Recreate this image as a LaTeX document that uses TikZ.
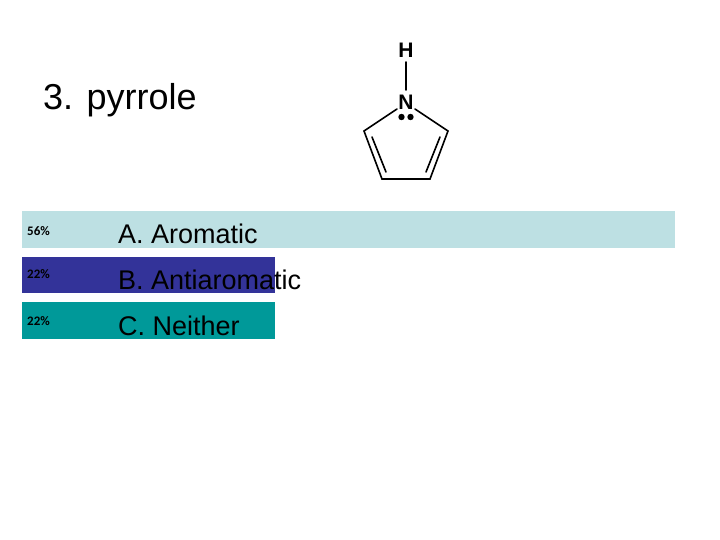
\documentclass[tikz,border=0pt]{standalone}
\usepackage{fontspec}
\setmainfont{Liberation Sans}
\newfontfamily\pct{Carlito}
\definecolor{barA}{HTML}{BDE0E3}
\definecolor{barB}{HTML}{333399}
\definecolor{barC}{HTML}{009999}
\begin{document}
\begin{tikzpicture}[x=1pt,y=-1pt,
  bond/.style={line width=1.6pt,line cap=round},
  pctlab/.style={anchor=west,font=\pct\bfseries\fontsize{13}{13}\selectfont,inner sep=0},
  anslab/.style={anchor=west,font=\fontsize{27}{27}\selectfont,inner sep=0}]
\useasboundingbox (0,0) rectangle (720,540);
\node[anchor=west,inner sep=0,font=\fontsize{36}{36}\selectfont] (title) at (43,100) {3. pyrrole};
% bars
\fill[barA] (22,211) rectangle (675,248);
\fill[barB] (22,257) rectangle (275,293);
\fill[barC] (22,302) rectangle (275,339);
\node[pctlab] (pa) at (27,231) {56\%};
\node[pctlab] (pb) at (27,274) {22\%};
\node[pctlab] (pc) at (27,321) {22\%};
\node[anslab] (a) at (118,234) {A. Aromatic};
\node[anslab] (b) at (118,280) {B. Antiaromatic};
\node[anslab] (c) at (118,326) {C. Neither};
% pyrrole
\node[inner sep=0,font=\bfseries\fontsize{21}{21}\selectfont] (H) at (406,50) {H};
\node[inner sep=0,font=\bfseries\fontsize{21}{21}\selectfont] (N) at (406,102) {N};
\fill (401.5,117) circle (3.2) (410.5,117) circle (3.2);
\coordinate (l) at (364,131);
\coordinate (r) at (448,131);
\coordinate (bl) at (382,179);
\coordinate (br) at (430,179);
\draw[bond] (406,62) -- (406,90);
\draw[bond] (397,109) -- (l) -- (bl) -- (br) -- (r) -- (415,109);
\draw[bond] (372,137) -- (386,172);
\draw[bond] (440,137) -- (426,172);
\end{tikzpicture}
\end{document}
